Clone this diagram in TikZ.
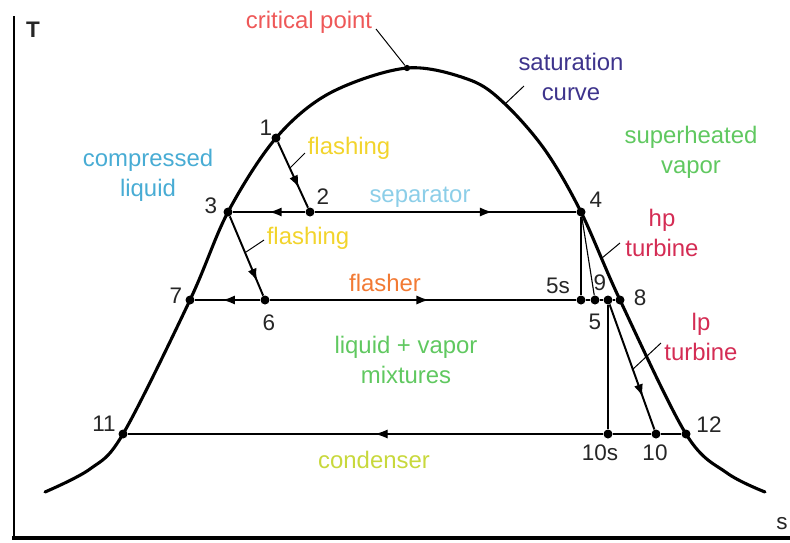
\documentclass[tikz,border=0pt]{standalone}
\usepackage{fontspec}
\setmainfont{Liberation Sans}
\usepackage{xcolor}
\usetikzlibrary{positioning,arrows.meta,decorations.markings}
\definecolor{critred}{RGB}{238,88,88}
\definecolor{satblue}{RGB}{62,52,140}
\definecolor{vapgreen}{RGB}{96,200,96}
\definecolor{liqblue}{RGB}{72,172,212}
\definecolor{flashyel}{RGB}{242,212,44}
\definecolor{sepblue}{RGB}{140,206,232}
\definecolor{turbred}{RGB}{212,44,84}
\definecolor{flashorange}{RGB}{242,122,52}
\definecolor{condgreen}{RGB}{200,216,60}

\begin{document}
\begin{tikzpicture}[x=0.025cm,y=-0.025cm,
  pt/.style={circle,fill=black,minimum size=6.4pt,inner sep=0pt},
  num/.style={font=\fontsize{16}{18}\selectfont,text=black!85},
  lbl/.style={font=\fontsize{17}{21.3}\selectfont,align=center,inner sep=1pt},
  proc/.style={line width=1.4pt},
  fineline/.style={line width=0.8pt},
  sat/.style={line width=2.2pt,line cap=round},
  ptr/.style={line width=0.7pt},
  midarrow/.style={postaction={decorate},decoration={markings,
    mark=at position #1 with {\arrow{Latex[length=9pt,width=6.5pt]}}}}]
  \useasboundingbox (0,0) rectangle (790,542);
  % axes
  \draw[line width=2pt] (14,16) -- (14,538);
  \draw[line width=3.5pt] (12,538) -- (790,538);
  \node[num,font=\fontsize{16}{18}\selectfont\bfseries] (tT) at (33,30) {T};
  \node[num] (ts) at (782,524) {s};
  % state points
  \node[pt,minimum size=4.5pt] (pc) at (407,68) {};
  \node[pt] (p1) at (276,138) {};
  \node[pt] (p2) at (310,212) {};
  \node[pt] (p3) at (228,212) {};
  \node[pt] (p4) at (581,212) {};
  \node[pt] (p5s) at (581,300) {};
  \node[pt] (p5) at (595,300) {};
  \node[pt] (p9) at (608,300) {};
  \node[pt] (p8) at (620,300) {};
  \node[pt] (p7) at (190,300) {};
  \node[pt] (p6) at (265,300) {};
  \node[pt] (p11) at (123,434) {};
  \node[pt] (p10s) at (608,434) {};
  \node[pt] (p10) at (656,434) {};
  \node[pt] (p12) at (686,434) {};
  % saturation curve
  \draw[sat] plot[smooth,tension=0.55] coordinates {(45,492) (90,469) (p11.center)
    (p7.center) (p3.center) (p1.center) (330,93) (pc.center) (470,80) (505,104)
    (545,150) (p4.center) (p8.center) (p12.center) (727,473) (765,492)};
  % processes
  \draw[proc,midarrow=0.7] (p1) -- (p2);
  \draw[proc,midarrow=0.5] (p2) -- (p3);
  \draw[proc,midarrow=0.68] (p2) -- (p4);
  \draw[proc,midarrow=0.82] (p3) -- (p6);
  \draw[proc,midarrow=0.58] (p6) -- (p7);
  \draw[proc,midarrow=0.52] (p6) -- (p5s);
  \draw[proc] (p5s) -- (p5) -- (p9) -- (p8);
  \draw[fineline] (p4) -- (p5s);
  \draw[fineline] (p4) -- (p5);
  \draw[fineline] (p9) -- (p10s);
  \draw[proc,midarrow=0.74] (p9) -- (p10);
  \draw[fineline] (p12) -- (p10) -- (p10s);
  \draw[fineline,midarrow=0.48] (p10s) -- (p11);
  % numbers
  \node[num] (n1) at (266,128) {1};
  \node[num] (n2) at (323,197) {2};
  \node[num] (n3) at (211,206) {3};
  \node[num] (n4) at (596,200) {4};
  \node[num] (n5s) at (558,286) {5s};
  \node[num] (n9) at (600,283) {9};
  \node[num] (n5) at (595,322) {5};
  \node[num] (n8) at (640,298) {8};
  \node[num] (n7) at (176,296) {7};
  \node[num] (n6) at (269,323) {6};
  \node[num] (n11) at (104,424) {11};
  \node[num] (n10s) at (600,453) {10s};
  \node[num] (n10) at (655,453) {10};
  \node[num] (n12) at (709,425) {12};
  % region and component labels
  \node[lbl,text=critred] (tcrit) at (309,22) {critical point};
  \coordinate (ccrit) at (376,29);
  \draw[ptr] (ccrit) -- (pc);
  \node[lbl,text=satblue] (tsat) at (571,77) {saturation\\curve};
  \coordinate (csat1) at (524,86);
  \coordinate (csat2) at (505,104);
  \draw[ptr] (csat1) -- (csat2);
  \node[lbl,text=vapgreen] (tvap) at (691,152) {superheated\\vapor};
  \node[lbl,text=liqblue] (tliq) at (148,175) {compressed\\liquid};
  \node[lbl,text=flashyel] (tfl1) at (349,148) {flashing};
  \coordinate (cfl1a) at (305,153);
  \coordinate (cfl1b) at (290,168);
  \draw[ptr] (cfl1a) -- (cfl1b);
  \node[lbl,text=flashyel] (tfl2) at (308,238) {flashing};
  \coordinate (cfl2a) at (264,240);
  \coordinate (cfl2b) at (246,252);
  \draw[ptr] (cfl2a) -- (cfl2b);
  \node[lbl,text=sepblue] (tsep) at (420,197) {separator};
  \node[lbl,text=turbred] (thp) at (662,233) {hp\\turbine};
  \coordinate (chpa) at (620,243);
  \coordinate (chpb) at (602,258);
  \draw[ptr] (chpa) -- (chpb);
  \node[lbl,text=turbred] (tlp) at (701,337) {lp\\turbine};
  \coordinate (clpa) at (661,343);
  \coordinate (clpb) at (632,370);
  \draw[ptr] (clpa) -- (clpb);
  \node[lbl,text=flashorange] (tflasher) at (385,283) {flasher};
  \node[lbl,text=vapgreen] (tmix) at (406,360) {liquid + vapor\\mixtures};
  \node[lbl,text=condgreen] (tcond) at (374,460) {condenser};
\end{tikzpicture}
\end{document}
